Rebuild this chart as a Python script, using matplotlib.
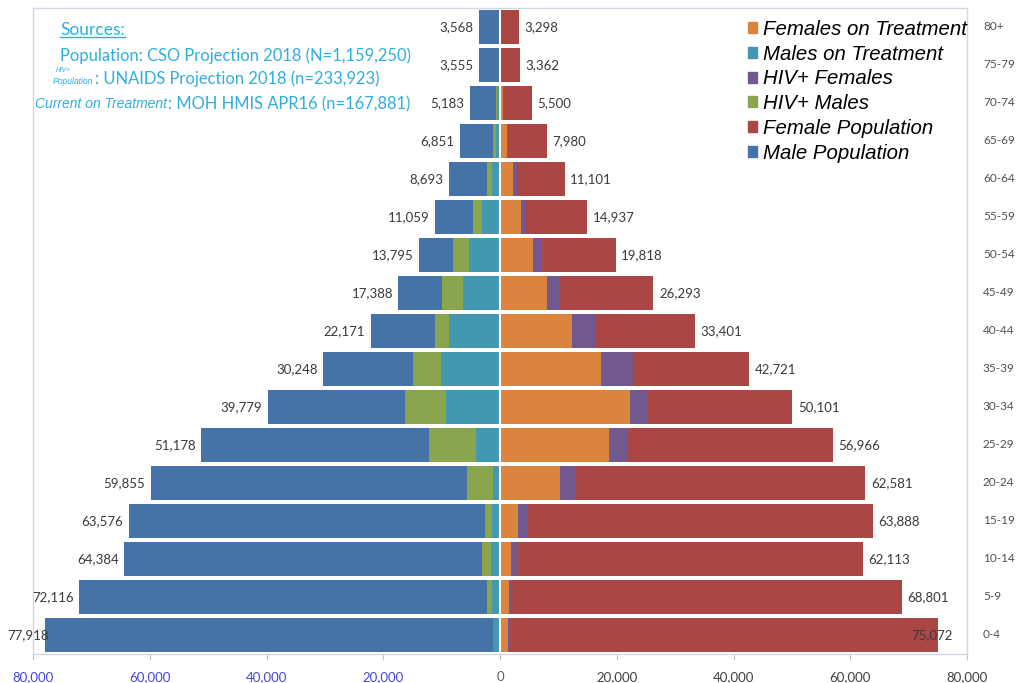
import matplotlib
matplotlib.use("Agg")
import matplotlib.pyplot as plt
from matplotlib.patches import Patch
from matplotlib.lines import Line2D
from matplotlib.ticker import FuncFormatter
import numpy as np

# age groups, bottom to top
ages = ['0-4', '5-9', '10-14', '15-19', '20-24', '25-29', '30-34', '35-39', '40-44',
        '45-49', '50-54', '55-59', '60-64', '65-69', '70-74', '75-79', '80+']
male_pop = [77918, 72116, 64384, 63576, 59855, 51178, 39779, 30248, 22171,
            17388, 13795, 11059, 8693, 6851, 5183, 3555, 3568]
female_pop = [75072, 68801, 62113, 63888, 62581, 56966, 50101, 42721, 33401,
              26293, 19818, 14937, 11101, 7980, 5500, 3362, 3298]
hiv_males = [1100, 2280, 3030, 2510, 5710, 12100, 16270, 14840, 11130,
             9930, 8000, 4570, 2170, 1140, 700, 250, 120]
treat_males = [1140, 1430, 1540, 1430, 1140, 4160, 9300, 10100, 8730,
               6280, 5250, 3030, 1430, 680, 450, 150, 80]
hiv_females = [1500, 2000, 3030, 4740, 12960, 21970, 25110, 22950, 16270,
               10100, 7250, 4450, 2850, 1430, 700, 250, 100]
treat_females = [1430, 1600, 1880, 3140, 10330, 18660, 22260, 17240, 12270,
                 8000, 5590, 3540, 2170, 1260, 500, 200, 80]

c_male, c_female = '#4572A7', '#AA4643'
c_hivm, c_hivf = '#89A54E', '#71588F'
c_trm, c_trf = '#4198AF', '#DB843D'
src_col = '#2FAEE0'
W, H = 1016, 683

fig = plt.figure(figsize=(W / 100, H / 100), dpi=100)
ax = fig.add_axes([33 / W, 1 - 654 / H, (967 - 33) / W, (654 - 8) / H])

y = np.arange(len(ages))
m = np.array(male_pop)
f = np.array(female_pop)
h = 0.87
ax.barh(y, -m, height=h, color=c_male)
ax.barh(y, f, height=h, color=c_female)
ax.barh(y, -np.array(hiv_males), height=h, color=c_hivm)
ax.barh(y, np.array(hiv_females), height=h, color=c_hivf)
ax.barh(y, -np.array(treat_males), height=h, color=c_trm)
ax.barh(y, np.array(treat_females), height=h, color=c_trf)
ax.axvline(0, color='white', lw=1.5)

mlabs, flabs = [], []
for i in range(len(ages)):
    mlabs.append(ax.annotate(f"{m[i]:,}", (-m[i], y[i]), xytext=(-4, 0),
                             textcoords='offset points', ha='right', va='center',
                             fontsize=9.5, family='Lato', color='#3A3A3A',
                             annotation_clip=False))
    flabs.append(ax.annotate(f"{f[i]:,}", (f[i], y[i]), xytext=(4, 0),
                             textcoords='offset points', ha='left', va='center',
                             fontsize=9.5, family='Lato', color='#3A3A3A',
                             annotation_clip=False))
    ax.text(1.017, y[i], ages[i], transform=ax.get_yaxis_transform(), ha='left',
            va='center', fontsize=8.5, family='Lato', color='#505050')

ax.set_xlim(-80000, 80000)
ax.set_ylim(-0.5, len(ages) - 0.5)
ax.set_xticks(np.arange(-80000, 80001, 20000))
ax.xaxis.set_major_formatter(FuncFormatter(lambda v, p: f"{abs(int(v)):,}"))
ax.set_yticks([])
ax.tick_params(axis='x', length=4, color='#BFBFBF', labelsize=9.5, pad=8)
for lab, v in zip(ax.get_xticklabels(), np.arange(-80000, 80001, 20000)):
    lab.set_family('Lato')
    lab.set_color('#4646D8' if v < 0 else ('#606060' if v == 0 else '#404040'))
for s in ax.spines.values():
    s.set_color('#D0D8E4')
    s.set_linewidth(1)

# legend
handles = [Patch(color=c_trf), Patch(color=c_trm), Patch(color=c_hivf),
           Patch(color=c_hivm), Patch(color=c_female), Patch(color=c_male)]
labels = ['Females on Treatment', 'Males on Treatment', 'HIV+ Females',
          'HIV+ Males', 'Female Population', 'Male Population']
fig.legend(handles, labels, loc='upper left', bbox_to_anchor=(748 / W, 1 - 20 / H),
           frameon=False, borderpad=0, borderaxespad=0, handlelength=0.45,
           handleheight=0.45, handletextpad=0.3, labelspacing=0.28,
           prop={'family': 'Liberation Sans', 'style': 'italic', 'size': 14.7})

# sources box
def px(x, yy):
    return x / W, 1 - yy / H

t = fig.text(*px(60, 30), 'Sources:', fontsize=12.5, family='Lato', color=src_col,
             va='center', ha='left')
fig.text(*px(60, 56), 'Population: CSO Projection 2018 (N=1,159,250)', fontsize=11.9,
         family='Lato', color=src_col, va='center', ha='left')
fig.text(*px(56, 71), 'HIV+', fontsize=4.8, style='italic', family='Liberation Sans',
         color=src_col, va='center', ha='left')
fig.text(*px(53, 81), 'Population', fontsize=6.2, style='italic', family='Liberation Sans',
         color=src_col, va='center', ha='left')
fig.text(*px(95, 79), ': UNAIDS Projection 2018 (n=233,923)', fontsize=11.9,
         family='Lato', color=src_col, va='center', ha='left')
fig.text(*px(35, 104), 'Current on Treatment', fontsize=10, style='italic',
         family='Liberation Sans', color=src_col, va='center', ha='left')
fig.text(*px(168, 104), ': MOH HMIS APR16 (n=167,881)', fontsize=11.9,
         family='Lato', color=src_col, va='center', ha='left')

fig.canvas.draw()
bb = t.get_window_extent().transformed(fig.transFigure.inverted())
fig.add_artist(Line2D([bb.x0, bb.x1], [bb.y0 + 0.002, bb.y0 + 0.002],
                      transform=fig.transFigure, color=src_col, lw=1))

# keep value labels inside the chart area, as the original does
pt = 72 / fig.dpi
for a in flabs:
    e = a.get_window_extent()
    if e.x1 > 953:
        a.set_position((4 - (e.x1 - 953) * pt, 0))
for a in mlabs:
    e = a.get_window_extent()
    if e.x0 < 7:
        a.set_position((-4 + (7 - e.x0) * pt, 0))

fig.savefig('out.png', dpi=100)
